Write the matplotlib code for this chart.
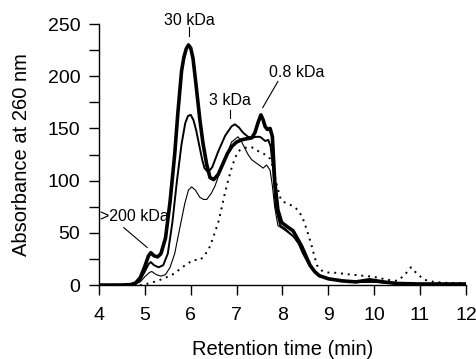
import matplotlib
matplotlib.use("Agg")
import matplotlib.pyplot as plt
from matplotlib.ticker import MultipleLocator

# retention time (min) / absorbance at 260 nm
time_a = [4.0, 4.5, 4.7, 4.8, 4.9, 5.0, 5.08, 5.13, 5.2, 5.28, 5.35, 5.45, 5.55, 5.65, 5.72, 5.8,
          5.85, 5.9, 5.95, 6.0, 6.05, 6.1, 6.15, 6.2, 6.27, 6.35, 6.42, 6.5, 6.6, 6.7, 6.8, 6.9,
          7.0, 7.1, 7.2, 7.33, 7.4, 7.47, 7.53, 7.58, 7.62, 7.67, 7.73, 7.78, 7.83, 7.9, 7.98,
          8.1, 8.23, 8.32, 8.42, 8.5, 8.6, 8.7, 8.8, 9.0, 9.3, 9.6, 9.9, 10.2, 10.5, 11.0, 12.0]
abs_a = [0, 0, 0.5, 2, 7, 18, 28, 31, 28, 27, 30, 45, 80, 125, 165, 205,
         218, 226, 230, 227, 217, 198, 178, 158, 135, 115, 103, 101, 106, 116, 126, 133,
         137, 139, 140, 141, 146, 156, 163, 158, 152, 149, 150, 142, 100, 72, 60,
         56, 52, 45, 37, 29, 19, 13, 9, 6, 4, 3, 5, 3, 1.5, 1, 1]

time_b = [4.0, 4.7, 4.8, 4.9, 5.0, 5.08, 5.13, 5.2, 5.3, 5.4, 5.5, 5.6, 5.7, 5.8, 5.88, 5.94,
          6.0, 6.06, 6.12, 6.18, 6.25, 6.3, 6.38, 6.47, 6.6, 6.75, 6.89, 6.96, 7.05, 7.14, 7.25,
          7.33, 7.42, 7.51, 7.57, 7.62, 7.69, 7.74, 7.8, 7.85, 7.95, 8.05, 8.15, 8.25, 8.35,
          8.45, 8.6, 8.8, 9.0, 9.5, 10.0, 10.5, 11.0, 12.0]
abs_b = [0, 0.3, 1.5, 5, 13, 20, 22, 19, 17, 19, 30, 60, 100, 135, 155, 162,
         163, 158, 148, 135, 120, 112, 108, 113, 128, 143, 152, 154, 151, 146, 142,
         141, 142, 142, 140, 138, 139, 133, 110, 75, 57, 54, 50, 46, 40,
         30, 18, 9, 6, 3, 3, 1.5, 1, 1]

time_c = [4.0, 4.7, 4.8, 4.9, 5.0, 5.1, 5.15, 5.25, 5.35, 5.45, 5.55, 5.65, 5.75, 5.87, 5.95,
          6.02, 6.1, 6.2, 6.28, 6.35, 6.45, 6.53, 6.65, 6.75, 6.89, 7.03, 7.1, 7.18, 7.25,
          7.33, 7.44, 7.52, 7.58, 7.65, 7.73, 7.78, 7.83, 7.9, 8.0, 8.1, 8.25, 8.35, 8.45, 8.6,
          8.8, 9.0, 9.5, 10.0, 10.5, 11.0, 12.0]
abs_c = [0, 0, 1, 3, 8, 12, 13, 10, 8.5, 10, 17, 30, 52, 78, 91,
         94, 91, 84, 82, 82, 88, 95, 110, 121, 137, 142, 138, 131, 125,
         120, 116.5, 114, 112, 115, 110, 95, 75, 57, 54, 51, 46, 40, 30, 18,
         9, 6, 3, 3, 1.5, 1, 1]

time_d = [4.0, 4.9, 5.0, 5.2, 5.4, 5.6, 5.76, 5.88, 5.95, 6.05, 6.2, 6.3, 6.42, 6.5, 6.6, 6.68,
          6.75, 6.82, 6.89, 6.96, 7.03, 7.14, 7.25, 7.33, 7.44, 7.53, 7.62, 7.73, 7.8, 7.88,
          7.95, 8.0, 8.12, 8.25, 8.36, 8.45, 8.53, 8.6, 8.64, 8.7, 8.75, 8.85, 8.97, 9.1, 9.5,
          9.97, 10.3, 10.5, 10.65, 10.8, 10.95, 11.1, 11.3, 11.6, 12.0]
abs_d = [0, 0, 0.5, 3, 6, 10, 15, 19, 21, 24, 24, 28, 37, 47, 60, 75,
         89, 101, 112, 121, 128, 131, 132, 132, 129, 127, 125, 121, 112, 95,
         84, 80, 78, 75, 71, 63, 53, 43, 37, 27, 19, 14, 12, 12, 10,
         8, 5, 4, 9, 17, 10, 5, 3, 2, 2]


def plot_chromatogram(output_file):
    plt.rcParams['font.family'] = ['Liberation Sans', 'DejaVu Sans']
    fig = plt.figure(figsize=(4.77, 3.59), dpi=100)
    ax = fig.add_axes([0.2075, 0.206, 0.7694, 0.727])

    ax.plot(time_d, abs_d, color='black', lw=1.4, linestyle=(0, (1, 2.5)))
    ax.plot(time_c, abs_c, color='black', lw=0.8)
    ax.plot(time_b, abs_b, color='black', lw=1.4)
    ax.plot(time_a, abs_a, color='black', lw=2.6)

    ax.set_xlim(4, 12)
    ax.set_ylim(0, 250)
    ax.xaxis.set_major_locator(MultipleLocator(1))
    ax.yaxis.set_major_locator(MultipleLocator(50))
    ax.yaxis.set_minor_locator(MultipleLocator(25))
    for side in ['top', 'right']:
        ax.spines[side].set_visible(False)
    for side in ['left', 'bottom']:
        ax.spines[side].set_linewidth(1.0)
    ax.tick_params(which='both', direction='out', length=7.5, width=1.0, labelsize=14)
    ax.tick_params(axis='x', pad=8)
    ax.tick_params(axis='y', pad=6)

    ax.set_xlabel("Retention time (min)", fontsize=14.5, labelpad=12)
    ax.set_ylabel("Absorbance at 260 nm", fontsize=14.5, labelpad=12)

    # peak labels with leader lines
    ax.text(5.97, 253, "30 kDa", ha='center', va='center', fontsize=11.5)
    ax.plot([5.97, 5.97], [239, 247], color='black', lw=0.8)
    ax.text(6.85, 177, "3 kDa", ha='center', va='center', fontsize=11.5)
    ax.plot([6.85, 6.85], [160, 168], color='black', lw=0.8)
    ax.text(8.31, 204, "0.8 kDa", ha='center', va='center', fontsize=11.5)
    ax.plot([7.9, 7.57], [195, 170], color='black', lw=0.8)
    ax.text(4.78, 66, ">200 kDa", ha='center', va='center', fontsize=11.5)
    ax.plot([4.54, 5.05], [55, 36], color='black', lw=0.8)

    plt.savefig(output_file)
    plt.close()


if __name__ == "__main__":
    plot_chromatogram("out.png")
